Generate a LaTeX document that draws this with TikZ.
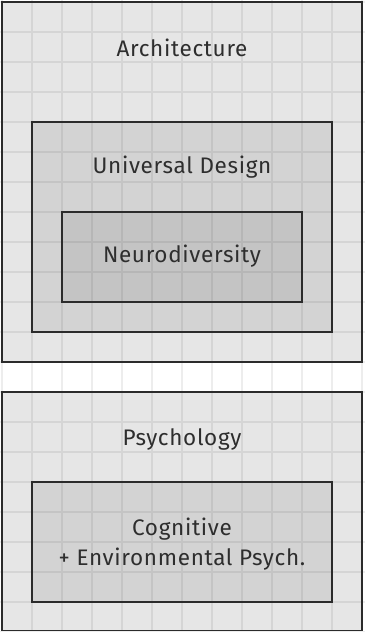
\documentclass[tikz,border=0pt]{standalone}
\usepackage{fontspec}
\setmainfont{Fira Sans}[LetterSpace=3]
\begin{document}
\begin{tikzpicture}[x=1pt,y=-1pt,
  box/.style={draw=boxline, line width=1.8pt},
  lbl/.style={text=txt, font=\fontsize{22.5}{30}\selectfont, align=center, inner sep=0pt}]
\definecolor{boxline}{HTML}{2B2B2B}
\definecolor{txt}{HTML}{2E2E2E}
\definecolor{fillA}{HTML}{E6E6E6}
\definecolor{fillB}{HTML}{D3D3D3}
\definecolor{fillC}{HTML}{C4C4C4}
\useasboundingbox (0,0) rectangle (365,632);
\fill[white] (0,0) rectangle (365,632);
% fills
\fill[fillA] (2,2) rectangle (362,362);
\fill[fillB] (32,122) rectangle (332,332);
\fill[fillC] (62,212) rectangle (302,302);
\fill[fillA] (2,392) rectangle (362,630.5);
\fill[fillB] (32,482) rectangle (332,602);
% grid (one path, so crossings do not darken twice)
\draw[black, opacity=0.07, line width=1.4pt]
  \foreach \i in {0,...,12} { (2+30*\i,0) -- (2+30*\i,632) }
  \foreach \j in {0,...,21} { (0,2+30*\j) -- (365,2+30*\j) };
% boxes
\node[box, minimum width=360pt, minimum height=360pt, inner sep=0pt] (arch) at (182,182) {};
\node[box, minimum width=300pt, minimum height=210pt, inner sep=0pt] (ud) at (182,227) {};
\node[box, minimum width=240pt, minimum height=90pt, inner sep=0pt] (neuro) at (182,257) {};
\node[box, minimum width=360pt, minimum height=238.5pt, inner sep=0pt] (psy) at (182,511.25) {};
\node[box, minimum width=300pt, minimum height=120pt, inner sep=0pt] (cog) at (182,542) {};
% labels
\node[lbl] (tarch) at (182,48) {Architecture};
\node[lbl] (tud) at (182,167) {Universal Design};
\node[lbl] (tneuro) at (182,256) {Neurodiversity};
\node[lbl] (tpsy) at (182,439) {Psychology};
\node[lbl] (tcog) at (182,544) {Cognitive\\+ Environmental Psych.};
\end{tikzpicture}
\end{document}
